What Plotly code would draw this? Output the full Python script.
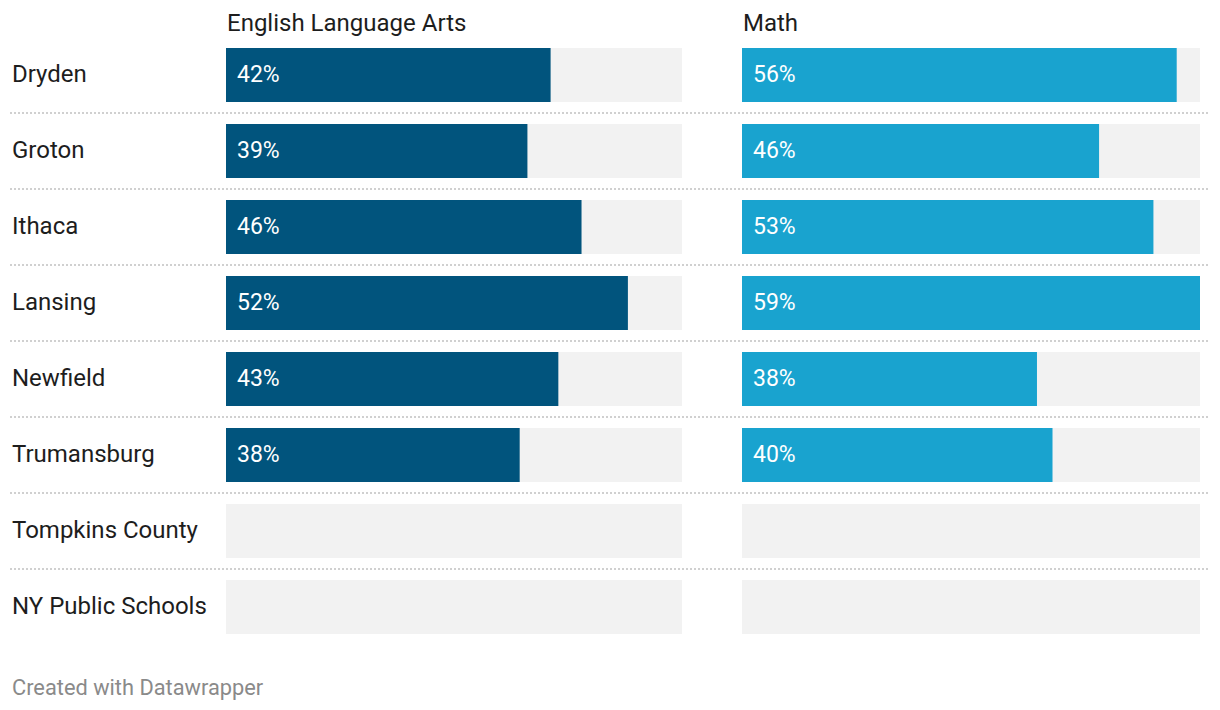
import plotly.graph_objects as go

schools = ["Dryden", "Groton", "Ithaca", "Lansing", "Newfield", "Trumansburg",
           "Tompkins County", "NY Public Schools"]
ela = [42, 39, 46, 52, 43, 38, None, None]
math = [56, 46, 53, 59, 38, 40, None, None]
subjects = ["English Language Arts", "Math"]
footer = "Created with Datawrapper"

W, H = 1220, 710
FONT = "Roboto"
TEXT = "#1d1d1d"
ELA_C = "#01547d"
MATH_C = "#19a3cf"
BG_C = "#f2f2f2"

vmax = max(v for v in ela + math if v is not None)
bg = [vmax] * len(schools)
idx = list(range(len(schools)))

fig = go.Figure()
for vals, color, xa in [(ela, ELA_C, "x"), (math, MATH_C, "x2")]:
    fig.add_trace(go.Bar(y=idx, x=bg, orientation="h", marker_color=BG_C,
                         marker_line_width=0, xaxis=xa, yaxis="y",
                         hoverinfo="skip", showlegend=False))
    fig.add_trace(go.Bar(y=idx, x=vals, orientation="h", marker_color=color,
                         marker_line_width=0, xaxis=xa, yaxis="y",
                         showlegend=False))

annotations = []
for i, s in enumerate(schools):
    annotations.append(dict(x=12 / W, xref="paper", y=i, yref="y", text=s,
                            showarrow=False, xanchor="left", yanchor="middle",
                            xshift=-2, yshift=1,
                            font=dict(family=FONT, size=24, color=TEXT)))
    for vals, xr in [(ela, "x"), (math, "x2")]:
        v = vals[i]
        if v is not None:
            annotations.append(dict(x=0, xref=xr, y=i, yref="y", text=f"{v}%",
                                    showarrow=False, xanchor="left", yanchor="middle",
                                    xshift=9, yshift=1,
                                    font=dict(family=FONT, size=23, color="white")))

dom1 = [226 / W, 682 / W]
dom2 = [742 / W, 1200 / W]
for name, d in zip(subjects, [dom1, dom2]):
    annotations.append(dict(x=d[0], xref="paper", y=1 - 23 / H, yref="paper",
                            text=name, showarrow=False, xanchor="left",
                            yanchor="middle", xshift=-1,
                            font=dict(family=FONT, size=24, color=TEXT)))
annotations.append(dict(x=10 / W, xref="paper", y=1 - 687 / H, yref="paper",
                        text=footer, showarrow=False, xanchor="left",
                        yanchor="middle", xshift=0,
                        font=dict(family=FONT, size=21.8, color="#8a8a8a")))

shapes = []
for i in range(len(schools) - 1):
    shapes.append(dict(type="line", xref="paper", yref="y", x0=10 / W, x1=1210 / W,
                       y0=i + 0.5, y1=i + 0.5,
                       line=dict(color="#d0d0d0", width=2, dash="2px,2px")))

# row i centered at pixel 75 + 76*i
y_top = -75 / 76
y_bot = (H - 75) / 76

fig.update_layout(
    width=W, height=H, margin=dict(l=0, r=0, t=0, b=0),
    paper_bgcolor="white", plot_bgcolor="white",
    barmode="overlay", bargap=1 - 54 / 76,
    xaxis=dict(domain=dom1, range=[0, vmax], visible=False, fixedrange=True),
    xaxis2=dict(domain=dom2, range=[0, vmax], visible=False, fixedrange=True),
    yaxis=dict(range=[y_bot, y_top], visible=False, domain=[0, 1], fixedrange=True),
    annotations=annotations, shapes=shapes,
    font=dict(family=FONT),
)

fig.write_html("out.html", config={"displayModeBar": False})
